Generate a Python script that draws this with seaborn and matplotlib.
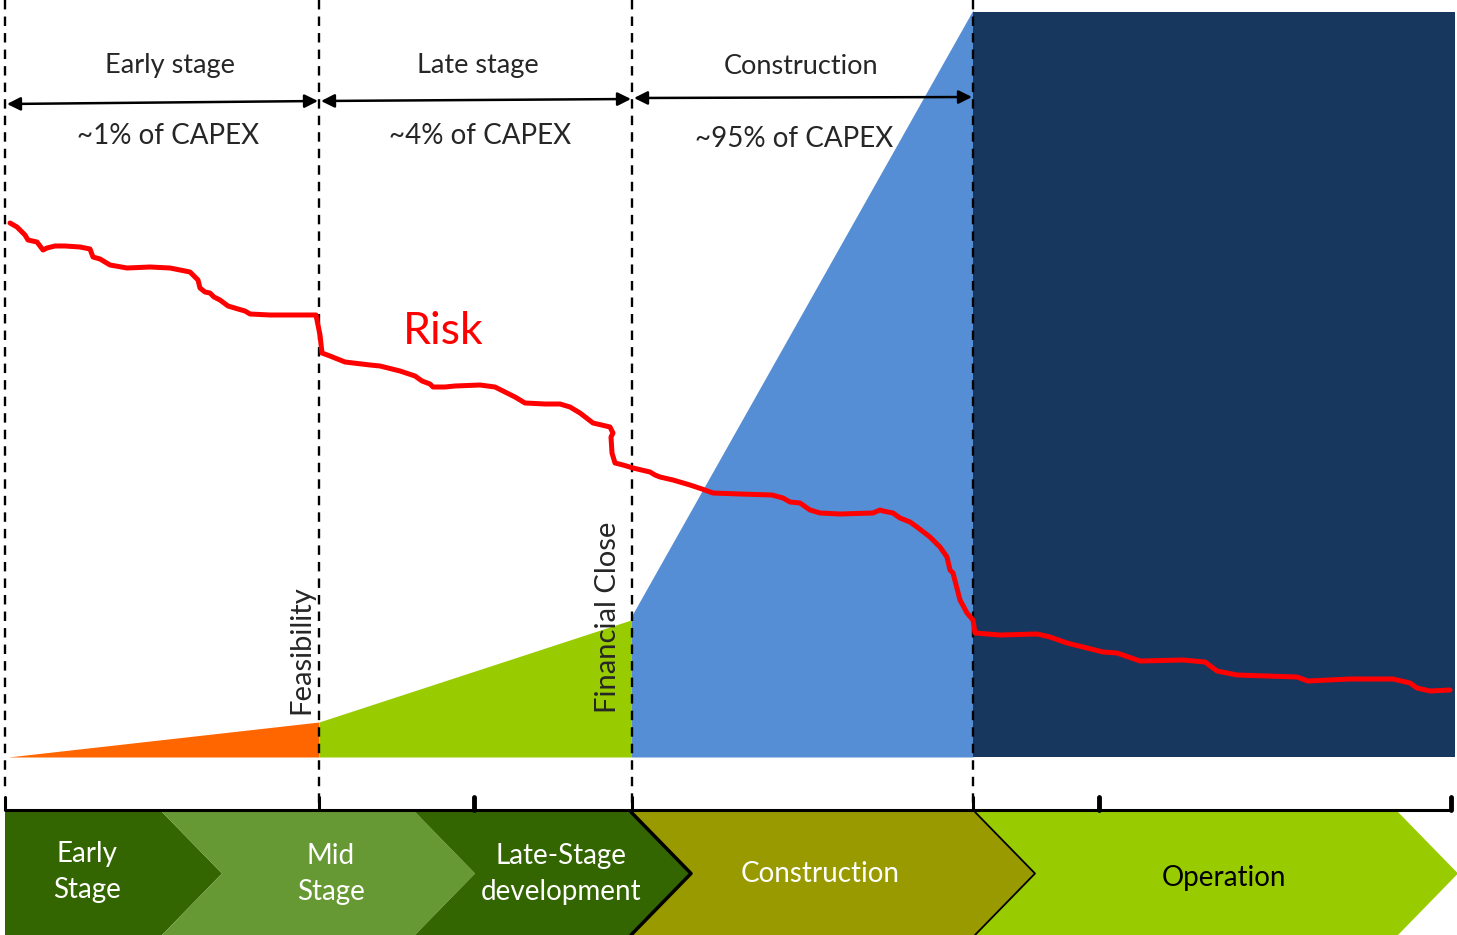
import numpy as np
import pandas as pd
import matplotlib
matplotlib.use("Agg")
import matplotlib.pyplot as plt
from matplotlib.patches import Polygon, Rectangle
import seaborn as sns

sns.set_theme(style="white")
plt.rcParams['font.family'] = ['Lato', 'DejaVu Sans']

# canvas units are pixels of the original diagram
W, H = 1457, 935

# phase dividers (dashed)
divider_x = [5, 319, 632, 973]
divider_bottom = [790, 810, 810, 810]

# top span labels
span_start = [7, 321, 634]
span_end = [318, 631, 972]
span_y0 = [104, 101, 98]
span_y1 = [101, 99, 97]
span_names = ["Early stage", "Late stage", "Construction"]
span_name_x = [170, 478, 801]
capex_labels = ["~1% of CAPEX", "~4% of CAPEX", "~95% of CAPEX"]
capex_x = [168, 480, 794]
capex_y = [136, 136, 139]

# cumulative spend wedge (height above baseline, px)
baseline = 757
spend_x = [8, 319, 631, 973]
spend_h_start = [0, 35, 140]
spend_h_end = [35, 137, 747]
spend_colors = ["#FF6600", "#99CC00", "#558ED5"]
oper_x = [973, 1455]
oper_top = 12
oper_color = "#17375E"

# risk curve
risk_x = [10, 17, 25, 28, 37, 43, 47, 55, 65, 80, 90, 93, 100, 110, 127, 150, 170, 190,
          198, 200, 205, 210, 214, 220, 228, 238, 245, 250, 270, 300, 316, 318, 320, 322,
          330, 345, 370, 380, 400, 415, 422, 430, 433, 445, 455, 480, 495, 505, 515, 525,
          545, 560, 570, 580, 593, 610, 613, 611, 612, 615, 623, 633, 650, 655, 660, 673,
          690, 702, 713, 740, 772, 783, 790, 800, 810, 820, 840, 873, 880, 883, 893, 900,
          910, 917, 930, 940, 947, 950, 953, 960, 967, 973, 975, 1000, 1037, 1050, 1067,
          1083, 1103, 1117, 1140, 1183, 1205, 1217, 1237, 1297, 1308, 1350, 1393, 1410,
          1417, 1430, 1450]
risk_y = [223, 227, 235, 240, 242, 250, 248, 246, 246, 247, 249, 257, 259, 265, 268, 267,
          268, 272, 280, 288, 292, 293, 297, 300, 306, 309, 311, 314, 315, 315, 315, 325,
          335, 353, 356, 362, 365, 366, 371, 376, 381, 384, 387, 387, 386, 385, 387, 392,
          397, 403, 404, 404, 407, 413, 423, 427, 433, 437, 453, 463, 465, 468, 472, 475,
          477, 480, 485, 489, 493, 494, 495, 498, 502, 503, 510, 513, 514, 513, 510, 511,
          513, 518, 522, 527, 537, 547, 557, 570, 573, 600, 613, 620, 633, 635, 634, 637,
          643, 647, 652, 653, 661, 660, 662, 671, 675, 677, 681, 679, 679, 683, 688, 691,
          690]

# milestone labels
milestones = ["Feasibility", "Financial Close"]
milestone_x = [301, 608]
milestone_y = [650, 617]

# bottom timeline
axis_y = 810
tick_x = [5, 319, 632, 973]
bold_tick_x = [474, 1099, 1451]

# chevrons
chev_names = ["Early\nStage", "Mid\nStage", "Late-Stage\ndevelopment", "Construction", "Operation"]
chev_left = [5, 162, 415, 631, 975]
chev_right = [162, 415, 631, 975, 1398]
chev_colors = ["#336600", "#669933", "#336600", "#999900", "#99CC00"]
chev_text_colors = ["white", "white", "white", "white", "black"]
chev_text_x = [87, 331, 561, 820, 1224]
chev_text_y = [872, 874, 874, 874, 878]
chev_top, chev_bot, tip = 812, 935, 60

fig = plt.figure(figsize=(W / 100, H / 100), dpi=100)
ax = fig.add_axes([0, 0, 1, 1])

# spending wedges
for i in range(3):
    ax.fill_between([spend_x[i], spend_x[i + 1]], [baseline, baseline],
                    [baseline - spend_h_start[i], baseline - spend_h_end[i]],
                    color=spend_colors[i], lw=0, zorder=1)
ax.add_patch(Rectangle((oper_x[0], oper_top), oper_x[1] - oper_x[0], baseline - oper_top,
                       color=oper_color, lw=0, zorder=1))

# dashed dividers
for x, yb in zip(divider_x, divider_bottom):
    ax.plot([x, x], [0, yb], color="black", lw=1.7, ls=(0, (4, 3)), zorder=3)

# top spans
for i in range(3):
    ax.annotate("", xy=(span_end[i], span_y1[i]), xytext=(span_start[i], span_y0[i]),
                arrowprops=dict(arrowstyle="<|-|>", color="black", lw=1.8,
                                mutation_scale=20, shrinkA=0, shrinkB=0), zorder=4)
    ax.text(span_name_x[i], 66, span_names[i], ha="center", va="center", fontsize=19.5)
    ax.text(capex_x[i], capex_y[i], capex_labels[i], ha="center", va="center", fontsize=20)

# risk curve
risk = pd.DataFrame({"x": risk_x, "y": risk_y})
sns.lineplot(data=risk, x="x", y="y", sort=False, color="#FF0000", lw=3.6, ax=ax, zorder=5)
ax.text(443, 331, "Risk", color="#FF0000", ha="center", va="center", fontsize=32)

for name, x, y in zip(milestones, milestone_x, milestone_y):
    ax.text(x, y, name, rotation=90, ha="center", va="center", fontsize=21, zorder=4)

# timeline axis
ax.plot([5, 1451], [axis_y, axis_y], color="black", lw=2.2, solid_capstyle="butt", zorder=4)
for x in tick_x:
    ax.plot([x, x], [axis_y - 13, axis_y], color="black", lw=2.2, zorder=4)
for x in bold_tick_x:
    ax.plot([x, x], [axis_y - 13, axis_y], color="black", lw=3.5, zorder=4)

# chevrons
mid = (chev_top + chev_bot) / 2
for i, name in enumerate(chev_names):
    l, r = chev_left[i], chev_right[i]
    pts = [(l, chev_top), (r, chev_top), (r + tip, mid), (r, chev_bot), (l, chev_bot)]
    if i > 0:
        pts.append((l + tip, mid))
    ax.add_patch(Polygon(pts, closed=True, facecolor=chev_colors[i], lw=0, zorder=2))
    if i in (2, 3):
        ax.plot([r, r + tip, r], [chev_top, mid, chev_bot], color="black",
                lw=2.5 if i == 2 else 1.3, zorder=3)
    ax.text(chev_text_x[i], chev_text_y[i], name, color=chev_text_colors[i],
            ha="center", va="center", fontsize=20, linespacing=1.45, zorder=4)

ax.set_xlim(0, W)
ax.set_ylim(H, 0)
ax.axis("off")

fig.savefig("out.png", dpi=100)
